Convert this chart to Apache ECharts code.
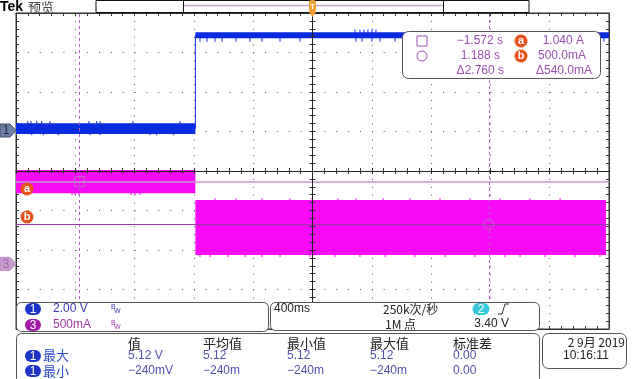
<!DOCTYPE html>
<html><head><meta charset="utf-8">
<script src="https://cdn.jsdelivr.net/npm/echarts@6/dist/echarts.min.js"></script>
<style>html,body{margin:0;padding:0;background:#fff}#c{width:632px;height:379px}</style>
</head><body><div id="c"></div>
<script>
const stepTime = -0.79;                       // s
const ch1Bands = [[-2.0, -0.79, -0.18, 0.365], [-0.79, 2.0, 4.67, 4.97]];   // [t0,t1,Vlo,Vhi]
const ch3Bands = [[-2.0, -0.79, 0.892, 1.187], [-0.79, 1.98, 0.111, 0.808]]; // [t0,t1,Alo,Ahi]
const ch1Edge = [[-0.79, 0.09], [-0.79, 4.82]];
const ch1LowUp = [-1.921,-1.899,-1.860,-1.827,-1.771,-1.508,-1.456,-1.433,-1.211,-0.894];
const ch1LowDown = [-1.894,-1.816,-1.715,-1.501,-1.433,-1.096,-1.051,-0.939];
const ch1HighDown = [-0.759,-0.712,-0.658,-0.610,-0.516,-0.422,-0.341,-0.219,-0.084,0.293,0.334,0.401,0.455,0.557,0.968,1.939,1.966];
const ch1HighUp = [0.287,0.320,0.347,0.374,0.401,0.428];
const ch3PreDown = [-1.622,-1.602,-1.575,-1.224,-1.197,-1.163];
const ch3PostUp = [-0.658,-0.516,-0.341,-0.152,-0.003,0.172,0.293,0.476,0.658,0.860,1.062,1.265,1.467,1.670];
const ch3PostDown = [-0.759,-0.691,-0.570,-0.455,-0.341,-0.219,-0.017,0.152,0.320,0.489,0.691,0.894,1.096,1.298,1.400,1.568,1.771,1.939];
const cursorTimes = [-1.572, 1.188];
const cursorLevels = [1.040, 0.500];
const measHeaders = ['值', '平均值', '最小值', '最大值', '标准差'];
const measMax = ['5.12 V', '5.12', '5.12', '5.12', '0.00'];
const measMin = ['−240mV', '−240m', '−240m', '−240m', '0.00'];

const BLUE = '#0b2be0', MAG = '#f80af8';
const FONT = 'Liberation Sans, Arial, sans-serif';
const CJK = '"Noto Sans CJK SC", sans-serif';

function spikes(times, from, to) { return times.map(t => [t, Math.min(from, to), Math.max(from, to)]); }
const ch1Spikes = [].concat(spikes(ch1LowUp, 0.3, 0.48), spikes(ch1LowDown, -0.1, -0.24),
  spikes(ch1HighDown, 4.7, 4.50), spikes(ch1HighUp, 4.9, 5.12));
const ch3Spikes = [].concat(spikes(ch3PreDown, 0.9, 0.87), spikes(ch3PostUp, 0.8, 0.83), spikes(ch3PostDown, 0.12, 0.085));

function bandRender(color) {
  return function (params, api) {
    const p0 = api.coord([api.value(0), api.value(3)]);
    const p1 = api.coord([api.value(1), api.value(2)]);
    return { type: 'rect', shape: { x: p0[0], y: p0[1], width: p1[0] - p0[0], height: p1[1] - p0[1] },
      style: { fill: color } };
  };
}
function spikeRender(color) {
  return function (params, api) {
    const p0 = api.coord([api.value(0), api.value(2)]);
    const p1 = api.coord([api.value(0), api.value(1)]);
    return { type: 'rect', shape: { x: p0[0] - 0.5, y: p0[1], width: 1, height: p1[1] - p0[1] },
      style: { fill: color } };
  };
}

const hid = { show: false };
const dotH = { show: true, lineStyle: { color: '#555', width: 1, type: [1, 10.86] } };
const dotV = { show: true, lineStyle: { color: '#555', width: 1, type: [1, 6.9] } };
function tickAxis(extra) {
  return Object.assign({
    type: 'value', axisLabel: hid, splitLine: hid,
    axisLine: { show: true, onZero: false, lineStyle: { color: '#333', width: 1 } },
    axisTick: { show: true, inside: true, length: 3, lineStyle: { color: '#333' } },
    minorTick: { show: true, splitNumber: 5, length: 3, lineStyle: { color: '#333' } }
  }, extra);
}

const chart = echarts.init(document.getElementById('c'), null, { renderer: 'canvas' });
const option = {
  animation: false,
  backgroundColor: '#fff',
  grid: { left: 16, top: 13, right: 23, bottom: 50, show: true, borderColor: '#333', borderWidth: 1, backgroundColor: 'transparent' },
  xAxis: [
    tickAxis({ min: -2, max: 2, interval: 0.4, position: 'bottom', splitLine: dotV, z: 1 }),
    tickAxis({ min: -5, max: 5, interval: 1, position: 'top', z: 1 }),
    tickAxis({ min: -5, max: 5, interval: 1, position: 'bottom', z: 10,
      axisLine: { show: true, onZero: true, onZeroAxisIndex: 0, lineStyle: { color: '#222' } },
      axisTick: { show: true, inside: true, length: 3, lineStyle: { color: '#222' } } }),
    tickAxis({ min: -5, max: 5, interval: 1, position: 'bottom', z: 10,
      axisLine: { show: true, onZero: true, onZeroAxisIndex: 0, lineStyle: { color: '#222' } },
      axisTick: { show: true, inside: false, length: 3, lineStyle: { color: '#222' } } })
  ],
  yAxis: [
    tickAxis({ min: -4, max: 4, interval: 1, position: 'left', splitLine: dotH, z: 1 }),
    tickAxis({ min: -4, max: 4, interval: 1, position: 'right', z: 1 }),
    tickAxis({ min: -4, max: 4, interval: 1, position: 'left', z: 10,
      axisLine: { show: true, onZero: true, onZeroAxisIndex: 0, lineStyle: { color: '#222' } },
      axisTick: { show: true, inside: true, length: 3, lineStyle: { color: '#222' } } }),
    tickAxis({ min: -4, max: 4, interval: 1, position: 'left', z: 10,
      axisLine: { show: true, onZero: true, onZeroAxisIndex: 0, lineStyle: { color: '#222' } },
      axisTick: { show: true, inside: false, length: 3, lineStyle: { color: '#222' } } }),
    { type: 'value', min: -10.05, max: 5.95, show: false },
    { type: 'value', min: -0.825, max: 3.175, show: false }
  ],
  series: [
    { type: 'custom', name: 'ch3', xAxisIndex: 0, yAxisIndex: 5, data: ch3Bands, renderItem: bandRender(MAG),
      encode: { x: [0, 1], y: [2, 3] }, z: 2, silent: true },
    { type: 'custom', name: 'ch3n', xAxisIndex: 0, yAxisIndex: 5, data: ch3Spikes, renderItem: spikeRender(MAG),
      encode: { x: 0, y: [1, 2] }, z: 2, silent: true },
    { type: 'custom', name: 'ch1', xAxisIndex: 0, yAxisIndex: 4, data: ch1Bands, renderItem: bandRender(BLUE),
      encode: { x: [0, 1], y: [2, 3] }, z: 3, silent: true },
    { type: 'custom', name: 'ch1n', xAxisIndex: 0, yAxisIndex: 4, data: ch1Spikes, renderItem: spikeRender(BLUE),
      encode: { x: 0, y: [1, 2] }, z: 3, silent: true },
    { type: 'line', xAxisIndex: 0, yAxisIndex: 4, data: ch1Edge, symbol: 'none',
      lineStyle: { color: BLUE, width: 1 }, z: 3, silent: true },
    { type: 'scatter', xAxisIndex: 0, yAxisIndex: 5, z: 5, silent: true,
      data: [
        { value: [cursorTimes[0], cursorLevels[0]], symbol: 'rect' },
        { value: [cursorTimes[1], cursorLevels[1]], symbol: 'circle' }
      ],
      symbolSize: 10,
      itemStyle: { color: 'rgba(0,0,0,0)', borderColor: '#a880b8', borderWidth: 1 },
      markLine: {
        silent: true, symbol: 'none', label: { show: false }, animation: false,
        data: [
          { xAxis: cursorTimes[0], lineStyle: { color: '#b060c0', type: [3, 3], width: 1 } },
          { xAxis: cursorTimes[1], lineStyle: { color: '#b060c0', type: [3, 3], width: 1 } },
          { yAxis: cursorLevels[0], lineStyle: { color: '#c894d0', type: 'solid', width: 1.5 } },
          { yAxis: cursorLevels[1], lineStyle: { color: '#9a3aa0', type: 'solid', width: 1 } }
        ]
      }
    }
  ]
};
chart.setOption(option);

// ---- overlays (screen furniture) ----
const ch1Zero = chart.convertToPixel({ yAxisIndex: 4 }, 0);
const ch3Zero = chart.convertToPixel({ yAxisIndex: 5 }, 0);
const trigX = chart.convertToPixel({ xAxisIndex: 0 }, 0);

function txt(x, y, s, o) {
  o = o || {};
  return { type: 'text', x: x, y: y, z: 100, silent: true,
    style: { text: s, font: o.font || ('12px ' + FONT), fill: o.fill || '#222',
      align: o.align || 'left', verticalAlign: 'middle' } };
}
function box(x, y, w, h, r) {
  return { type: 'rect', z: 90, silent: true, shape: { x: x, y: y, width: w, height: h, r: r },
    style: { fill: '#fff', stroke: '#555', lineWidth: 1 } };
}
function pill(cx, cy, label, color, w) {
  w = w || 16;
  return [
    { type: 'rect', z: 95, silent: true, shape: { x: cx - w / 2, y: cy - 6, width: w, height: 12, r: 6 }, style: { fill: color } },
    txt(cx, cy + 0.5, label, { fill: '#fff', align: 'center', font: '12px ' + FONT })
  ];
}
function marker(cy, fill, stroke, label, lcol) {
  return [
    { type: 'polygon', z: 95, silent: true,
      shape: { points: [[0, cy - 6.5], [10, cy - 6.5], [16, cy], [10, cy + 6.5], [0, cy + 6.5]] },
      style: { fill: fill, stroke: stroke, lineWidth: 1 } },
    txt(6, cy + 0.5, label, { fill: lcol, align: 'center', font: '12px ' + FONT })
  ];
}
function orange(cx, cy, l) {
  return [
    { type: 'circle', z: 95, silent: true, shape: { cx: cx, cy: cy, r: 6.5 }, style: { fill: '#e8521c' } },
    txt(cx, cy, l, { fill: '#fff', align: 'center', font: 'bold 11px ' + FONT })
  ];
}

const dt = (cursorTimes[1] - cursorTimes[0]).toFixed(3);
const dI = ((cursorLevels[0] - cursorLevels[1]) * 1000).toFixed(1);
const P = '#9a50b0';
const g = [];
// header
g.push(txt(0, 7, 'Tek', { font: 'bold 14px ' + FONT, fill: '#000' }));
g.push(txt(28, 7, '预览', { font: '13px ' + CJK, fill: '#444' }));
g.push({ type: 'rect', z: 90, silent: true, shape: { x: 96, y: 0.5, width: 433, height: 12 }, style: { fill: '#fff', stroke: '#111', lineWidth: 1 } });
g.push({ type: 'line', z: 91, silent: true, shape: { x1: 183.5, y1: 0, x2: 183.5, y2: 13 }, style: { stroke: '#111', lineWidth: 1 } });
g.push({ type: 'line', z: 91, silent: true, shape: { x1: 443.5, y1: 0, x2: 443.5, y2: 13 }, style: { stroke: '#111', lineWidth: 1 } });
g.push({ type: 'line', z: 91, silent: true, shape: { x1: 184, y1: 5.5, x2: 443, y2: 5.5 }, style: { stroke: '#c8a0d0', lineWidth: 1.5 } });
g.push({ type: 'rect', z: 96, silent: true, shape: { x: trigX - 3.5, y: 0, width: 7, height: 13, r: 3 }, style: { fill: '#f0a030' } });
g.push({ type: 'polygon', z: 96, silent: true, shape: { points: [[trigX - 3.5, 12], [trigX + 3.5, 12], [trigX, 17]] }, style: { fill: '#f0a030' } });
g.push(txt(trigX, 6.5, 'T', { fill: '#fff', align: 'center', font: 'bold 8px ' + FONT }));
// left markers
marker(ch1Zero, '#6f82a5', '#3e4e70', '1', '#1d2a48').forEach(e => g.push(e));
marker(ch3Zero, '#c99bd0', '#b488c0', '3', '#9a6aa6').forEach(e => g.push(e));
orange(27, 189, 'a').forEach(e => g.push(e));
orange(27, 217, 'b').forEach(e => g.push(e));
// cursor readout
g.push(box(402.5, 31.5, 198, 47, 6));
g.push({ type: 'rect', z: 95, silent: true, shape: { x: 417, y: 36, width: 10, height: 10 }, style: { fill: 'none', stroke: P, lineWidth: 1 } });
g.push({ type: 'circle', z: 95, silent: true, shape: { cx: 422, cy: 56, r: 5 }, style: { fill: 'none', stroke: P, lineWidth: 1 } });
g.push(txt(503, 41, cursorTimes[0].toFixed(3).replace('-', '−') + ' s', { fill: P, align: 'right' }));
g.push(txt(500, 56, cursorTimes[1].toFixed(3) + ' s', { fill: P, align: 'right' }));
g.push(txt(504, 71, 'Δ' + dt + ' s', { fill: P, align: 'right' }));
orange(521, 41, 'a').forEach(e => g.push(e));
orange(521, 56, 'b').forEach(e => g.push(e));
g.push(txt(584, 41, cursorLevels[0].toFixed(3) + ' A', { fill: P, align: 'right' }));
g.push(txt(586, 56, (cursorLevels[1] * 1000).toFixed(1) + 'mA', { fill: P, align: 'right' }));
g.push(txt(592, 71, 'Δ' + dI + 'mA', { fill: P, align: 'right' }));
// channel panel
g.push(box(16.5, 302.5, 252, 29, 5));
pill(33, 309, '1', '#1c34c8').forEach(e => g.push(e));
pill(33, 325, '3', '#a21aa6').forEach(e => g.push(e));
g.push(txt(53, 309, '2.00 V', { fill: '#3a3ab6' }));
g.push(txt(53, 325, '500mA', { fill: '#a038a8' }));
[[309, '#3a3ab6'], [325, '#a038a8']].forEach(function (r) {
  g.push(txt(111, r[0] - 2, 'B', { fill: r[1], font: '7px ' + FONT }));
  g.push(txt(114, r[0] + 2, 'W', { fill: r[1], font: '7px ' + FONT }));
});
// timebase panel
g.push(box(270.5, 302.5, 269, 28, 5));
g.push(txt(274, 309, '400ms'));
g.push(txt(383, 309, '250k次/秒', { font: '12px ' + CJK }));
g.push(txt(385, 324, '1M 点', { font: '12px ' + CJK }));
pill(481, 309, '2', '#38c8dc', 17).forEach(e => g.push(e));
g.push({ type: 'polyline', z: 95, silent: true, shape: { points: [[498, 314], [502, 314], [505, 304], [509, 304]] }, style: { stroke: '#333', lineWidth: 1, fill: 'none' } });
g.push(txt(509, 324, '3.40 V', { align: 'right' }));
// measurement panel
g.push(box(16.5, 333.5, 523, 50, 5));
const cols = [128, 203, 287, 370, 453];
measHeaders.forEach((h, i) => g.push(txt(cols[i], 343, h, { font: '13px ' + CJK })));
pill(33, 356, '1', '#1c34c8').forEach(e => g.push(e));
pill(33, 371, '1', '#1c34c8').forEach(e => g.push(e));
g.push(txt(43, 355, '最大', { font: '13px ' + CJK, fill: '#2a4ad0' }));
g.push(txt(43, 371, '最小', { font: '13px ' + CJK, fill: '#2a4ad0' }));
measMax.forEach((v, i) => g.push(txt(cols[i], 356, v, { fill: '#5050b0' })));
measMin.forEach((v, i) => g.push(txt(cols[i], 371, v, { fill: '#5050b0' })));
// date panel
g.push(box(542.5, 333.5, 84, 35, 6));
g.push(txt(625, 342, '2 9月 2019', { align: 'right', font: '12px ' + CJK }));
g.push(txt(563, 356, '10:16:11'));

chart.setOption({ graphic: { elements: g } });
</script></body></html>
